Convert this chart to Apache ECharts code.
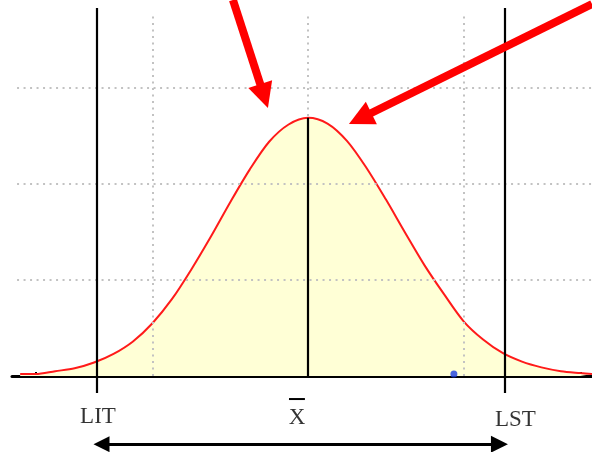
<!DOCTYPE html>
<html>
<head>
<meta charset="utf-8">
<script src="https://cdn.jsdelivr.net/npm/echarts@6/dist/echarts.min.js"></script>
<style>
  html, body { margin: 0; padding: 0; background: #ffffff; }
  #chart { width: 592px; height: 452px; }
</style>
</head>
<body>
<div id="chart"></div>
<script>
// Normal distribution of the process (x in tick steps, mean at 0)
const curveX = [-7.4, -7, -6.5, -6, -5.5, -5, -4.5, -4, -3.5, -3, -2.5, -2, -1.5, -1, -0.5, 0,
                0.5, 1, 1.5, 2, 2.5, 3, 3.5, 4, 4.5, 5, 5.5, 6, 6.5, 7, 7.3];
const curveY = [0.02, 0.02, 0.05, 0.08, 0.14, 0.23, 0.36, 0.55, 0.80, 1.11, 1.45, 1.81, 2.15, 2.44, 2.62, 2.69,
                2.63, 2.45, 2.17, 1.84, 1.49, 1.15, 0.85, 0.57, 0.38, 0.24, 0.15, 0.09, 0.05, 0.03, 0.02];

// Axis ticks and dotted reference grid
const tickValues = [-7, -6, -5, -4, -3, -2, -1, 0, 1, 2, 3, 4, 5, 6, 7];
const gridXLevels = [-4, 0, 4];
const gridYLevels = [1, 2, 3];

// Specification limits and mean
const limitNames = ['LIT', 'LST'];
const limitValues = [-5.42, 5.06];
const meanValue = 0;
const meanHeight = 2.69;

// Text under the axis: [x, y]
const labelNames = ['LIT', 'X', 'LST'];
const labelPos = [[-5.40, -0.43], [-0.28, -0.44], [5.33, -0.46]];
const overbar = [[-0.49, -0.24], [-0.08, -0.24]];

// Tolerance span arrow (centres of its heads) and pointer arrows
const spanArrow = [[-5.31, -0.71], [4.92, -0.71]];
const pointerArrows = [
  [[-1.93, 3.917], [-1.13, 2.916]],
  [[7.30, 3.875], [1.34, 2.682]]
];

// Single observation on the axis
const samplePoint = [3.75, 0.02];

const xMin = -7.61, xMax = 7.30;
const yMin = -0.7917, yMax = 3.9167;

const chart = echarts.init(document.getElementById('chart'), null, { renderer: 'canvas' });

const curveData = curveX.map((x, i) => [x, curveY[i]]);
const dotted = { color: '#c2c2c2', width: 2, type: [2, 4.5] };

const gridLines = [];
gridYLevels.forEach(y => gridLines.push([{ coord: [-7.48, y] }, { coord: [xMax, y] }]));
gridXLevels.forEach(x => gridLines.push([{ coord: [x, 0] }, { coord: [x, 3.79] }]));

const limitLines = limitValues.map(x => [{ coord: [x, -0.177] }, { coord: [x, 3.833] }]);
limitLines.push([{ coord: [meanValue, 0] }, { coord: [meanValue, meanHeight] }]);

const textStyle = { fontFamily: 'Liberation Serif', fontSize: 23, color: '#000000' };

chart.setOption({
  animation: false,
  backgroundColor: '#ffffff',
  grid: { left: 12, right: 0, top: 0, bottom: 0 },
  xAxis: {
    type: 'value', min: xMin, max: xMax,
    axisLine: { show: true, onZero: true, lineStyle: { color: '#000000', width: 3 } },
    axisTick: { show: true, inside: true, length: 4, customValues: tickValues,
                lineStyle: { color: '#000000', width: 2 } },
    axisLabel: { show: false },
    splitLine: { show: false }
  },
  yAxis: {
    type: 'value', min: yMin, max: yMax,
    axisLine: { show: false }, axisTick: { show: false },
    axisLabel: { show: false }, splitLine: { show: false }
  },
  series: [
    {
      name: 'area', type: 'line', data: curveData, smooth: 0.3, symbol: 'none',
      lineStyle: { width: 0 }, areaStyle: { color: '#ffffd6', opacity: 1 }, z: 1
    },
    {
      name: 'grid', type: 'line', data: [], z: 2,
      markLine: { silent: true, symbol: ['none', 'none'], label: { show: false },
                  lineStyle: dotted, data: gridLines, animation: false }
    },
    {
      name: 'curve', type: 'line', data: curveData, smooth: 0.3, symbol: 'none',
      lineStyle: { color: '#ff1a1a', width: 2 }, z: 3
    },
    {
      name: 'limits', type: 'line', data: [], z: 4,
      markLine: { silent: true, symbol: ['none', 'none'], label: { show: false },
                  lineStyle: { color: '#000000', width: 2.2, type: 'solid' },
                  data: limitLines, animation: false }
    },
    {
      name: 'overbar', type: 'line', data: overbar, symbol: 'none', z: 5,
      lineStyle: { color: '#000000', width: 2 }
    },
    {
      name: 'span', type: 'lines', coordinateSystem: 'cartesian2d', z: 5,
      symbol: ['triangle', 'triangle'], symbolSize: [16, 17],
      lineStyle: { color: '#000000', width: 3, opacity: 1 },
      data: [{ coords: spanArrow }]
    },
    {
      name: 'pointers', type: 'lines', coordinateSystem: 'cartesian2d', z: 6,
      symbol: ['none', 'triangle'], symbolSize: [28, 25],
      lineStyle: { color: '#ff0000', width: 8, opacity: 1 },
      itemStyle: { color: '#ff0000' },
      data: pointerArrows.map(c => ({ coords: c }))
    },
    {
      name: 'sample', type: 'scatter', data: [samplePoint], symbolSize: 7, z: 6,
      itemStyle: { color: '#1a3de0' }
    },
    {
      name: 'labels', type: 'scatter', symbolSize: 0, z: 7,
      data: labelNames.map((n, i) => ({ name: n, value: labelPos[i] })),
      label: { show: true, position: 'inside', formatter: '{b}', ...textStyle }
    }
  ]
});
</script>
</body>
</html>
